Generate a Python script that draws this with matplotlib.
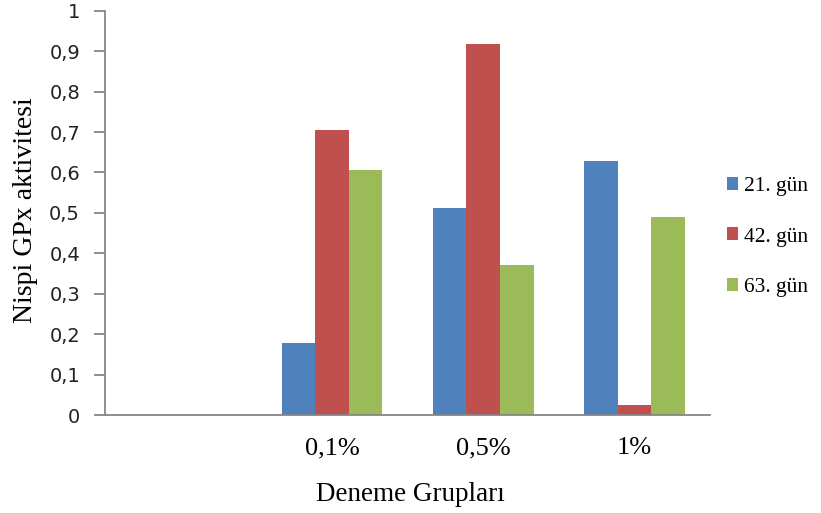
import numpy as np
import matplotlib.pyplot as plt

groups = ["", "0,1%", "0,5%", "1%"]
series = ["21. gün", "42. gün", "63. gün"]
day21 = [0, 0.179, 0.511, 0.629]
day42 = [0, 0.704, 0.918, 0.025]
day63 = [0, 0.605, 0.371, 0.491]
colors = ["#4F81BD", "#C0504D", "#9BBB59"]

fig = plt.figure(figsize=(8.21, 5.13), dpi=100)
ax = fig.add_axes([0.128, 0.191, 0.737, 0.788])

x = np.arange(len(groups))
w = 1 / 4.5  # excel gap width 150%
for i, (vals, c, lab) in enumerate(zip([day21, day42, day63], colors, series)):
    ax.bar(x + (i - 1) * w, vals, w, color=c, label=lab, edgecolor="none")

ax.set_xlim(-0.5, len(groups) - 0.5)
ax.set_ylim(0, 1)
ax.set_yticks(np.arange(0, 1.01, 0.1))
ax.set_yticklabels(["0"] + [f"0,{k}" for k in range(1, 10)] + ["1"],
                   fontsize=14, color="#222222")
ax.set_xticks(x)
ax.set_xticklabels(groups, fontsize=19, family="Liberation Serif")

for s in ["top", "right"]:
    ax.spines[s].set_visible(False)
for s in ["left", "bottom"]:
    ax.spines[s].set_color("#868686")
    ax.spines[s].set_linewidth(1.3)
ax.tick_params(axis="y", length=8, width=1.3, color="#868686", pad=10)
ax.tick_params(axis="x", length=0, pad=16)

ax.set_ylabel("Nispi GPx aktivitesi", fontsize=20, family="Liberation Serif")
ax.yaxis.set_label_coords(-0.111, 0.507)
ax.set_xlabel("Deneme Grupları", fontsize=19.5, family="Liberation Serif")
ax.xaxis.set_label_coords(0.504, -0.166)

fig.legend(loc="center left", bbox_to_anchor=(0.885, 0.538), frameon=False,
           prop={"family": "Liberation Serif", "size": 15.5},
           handlelength=0.55, handleheight=0.55, handletextpad=0.25,
           labelspacing=1.45, borderpad=0, borderaxespad=0)

fig.savefig("out.png", dpi=100)
